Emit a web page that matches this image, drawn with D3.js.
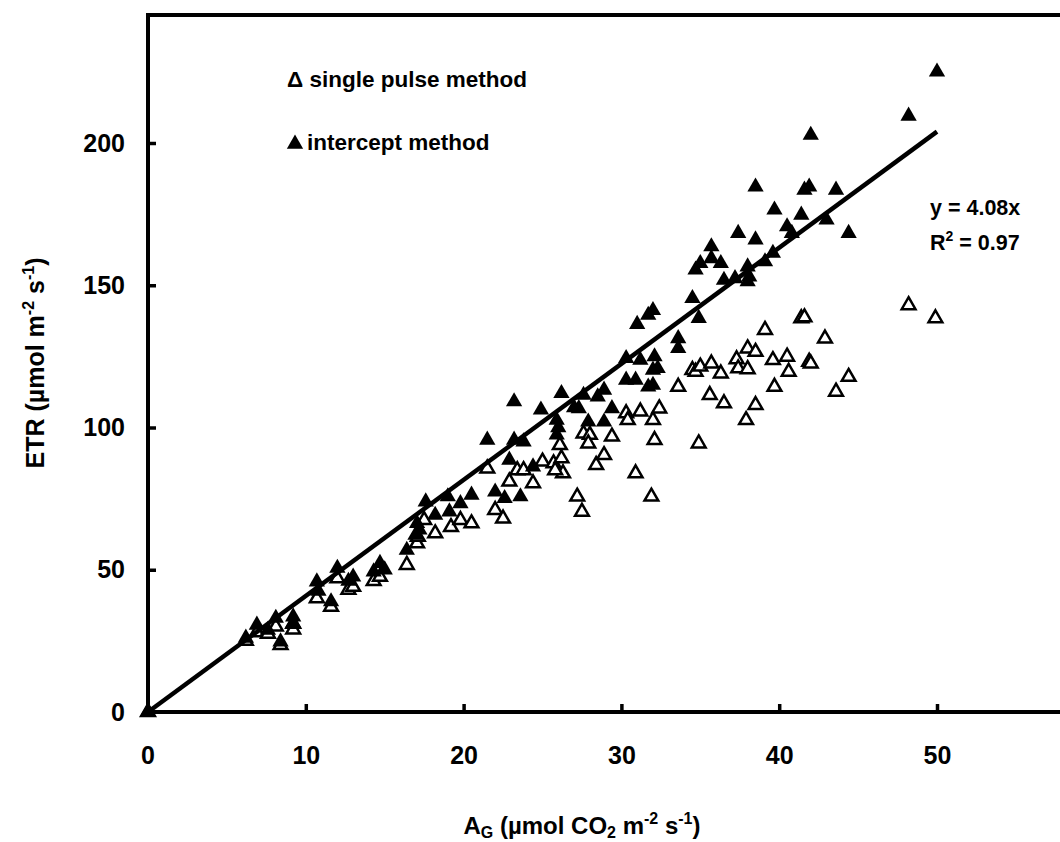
<!DOCTYPE html>
<html><head><meta charset="utf-8">
<script src="https://cdn.jsdelivr.net/npm/d3@7"></script>
<style>
body{margin:0;background:#fff}
text{font-family:Arial,"Liberation Sans",sans-serif;font-weight:bold;fill:#000}
</style>
</head><body><svg id="c" width="1060" height="842"></svg>
<script>
const xTicks=[0,10,20,30,40,50];
const yTicks=[0,50,100,150,200];
const singlePulse=[[0,0],[6.2,25.0],[6.9,28],[7.6,27.5],[8.1,30],[8.4,23.5],[9.2,29],[9.2,31],[10.7,40],[11.6,37],[12.0,47],[12.7,43],[13.0,44],[14.3,46],[14.7,47.5],[16.4,51.7],[17.05,59.3],[17.1,61.6],[17.5,67.5],[18.2,62.8],[19.2,65],[19.8,67.5],[20.5,66.3],[21.5,85.6],[22.0,71],[22.5,68],[22.9,81],[23.4,85],[23.8,85],[24.4,80.4],[25.0,88],[25.7,87.4],[26.2,89.2],[26.1,93.8],[26.3,83.9],[25.8,85],[27.2,75.7],[27.5,70.4],[27.6,97.9],[28.0,97.4],[27.9,94.4],[28.4,86.8],[28.9,90.3],[29.4,96.8],[30.3,105],[30.4,102.6],[30.9,83.9],[31.2,105.6],[31.9,75.7],[32.0,102.6],[32.1,95.6],[32.4,106.7],[33.6,114.3],[34.5,120.2],[34.7,119.6],[34.9,94.4],[35.0,121.4],[35.6,111.4],[35.7,122.5],[36.3,119],[36.5,108.5],[37.3,124],[37.4,120.8],[37.9,102.6],[38.0,120.5],[38.0,127.8],[38.5,126.6],[38.5,107.9],[39.1,134.3],[39.6,123.7],[39.7,114.3],[40.5,124.9],[40.6,119.6],[41.4,138.4],[41.6,138.7],[41.9,123.1],[42.0,122.5],[42.9,131.3],[43.6,112.6],[44.4,117.8],[48.2,143],[49.9,138.4]];
const intercept=[[0,0],[6.2,26.0],[6.9,30.6],[7.6,28.8],[8.1,33.0],[8.4,24.7],[9.2,33.5],[9.2,31.3],[10.7,45.8],[10.8,42.5],[11.6,38.8],[12.0,50.6],[12.7,46.0],[13.0,47.5],[14.3,49.3],[14.7,52.3],[15.0,50.0],[16.4,56.9],[16.95,62.2],[17.05,66.3],[17.2,64.0],[17.6,73.9],[18.2,69.2],[19.0,75.7],[19.1,70.4],[19.8,73.3],[20.5,76.3],[21.5,95.6],[22.0,77.4],[22.6,75.1],[22.9,88.6],[23.2,109.1],[23.2,95.6],[23.6,75.7],[23.8,95.0],[24.4,86.2],[24.9,106.2],[25.9,102.6],[25.9,97.4],[26.0,100.0],[26.2,112.0],[27.0,107.0],[27.3,106.7],[27.6,111.4],[27.9,102.0],[28.5,110.8],[28.9,113.2],[28.9,102.0],[29.4,106.7],[30.3,124.3],[30.3,116.7],[31.0,136.3],[30.9,116.7],[31.2,123.7],[31.7,139.5],[32.0,141.2],[31.7,114.3],[32.0,114.9],[32.1,124.9],[32.0,120.2],[32.3,120.8],[33.6,131.3],[33.6,127.8],[34.5,145.4],[34.9,138.4],[35.0,157.7],[34.7,155.4],[35.7,163.6],[35.7,159.4],[36.3,157.7],[36.5,151.8],[37.2,152.4],[37.4,168.3],[38.0,156.5],[38.1,153.0],[38.0,151.3],[38.5,184.6],[38.5,166.0],[39.1,158.3],[39.6,161.3],[39.7,176.5],[40.5,170.6],[40.8,168.3],[41.4,174.7],[41.6,183.5],[41.9,184.6],[42.0,202.8],[43.0,173.0],[43.6,183.5],[44.4,168.3],[48.2,209.5],[50.0,225.0]];
const fitSlope=4.08;
const fitRange=[0,50.0];
const legendLabels=["single pulse method","intercept method"];
const eqText=["y = 4.08x","0.97"];

const svg=d3.select("#c");
const x=d3.scaleLinear().domain([0,60]).range([148,148+60*15.78]);
const y=d3.scaleLinear().domain([0,250]).range([712,712-250*2.845]);
const topVal=245;

// frame
svg.append("path")
  .attr("d",`M1070,${y(topVal)}H${x(0)}V${y(0)}H1070`)
  .attr("fill","none").attr("stroke","#000").attr("stroke-width",4);

// axes
const xa=svg.append("g").attr("transform",`translate(0,${y(0)})`)
  .call(d3.axisBottom(x).tickValues(xTicks.slice(1)).tickSizeInner(-8).tickSizeOuter(0).tickPadding(34).tickFormat(d3.format("d")));
xa.select(".domain").remove();
svg.append("text").attr("x",x(0)).attr("y",y(0)+34).attr("dy","0.71em").attr("text-anchor","middle").attr("font-size",25).text(xTicks[0]);
xa.selectAll("line").attr("stroke-width",3.5);
xa.selectAll("text").attr("font-size",25).attr("font-family",null).attr("font-weight","bold").attr("fill","#000");

const ya=svg.append("g").attr("transform",`translate(${x(0)},0)`)
  .call(d3.axisLeft(y).tickValues(yTicks).tickSizeInner(-8).tickSizeOuter(0).tickPadding(23).tickFormat(d3.format("d")));
ya.select(".domain").remove();
ya.selectAll("line").attr("stroke-width",3.5);
ya.selectAll("text").attr("font-size",25).attr("font-family",null).attr("font-weight","bold").attr("fill","#000");
ya.selectAll(".tick").filter(d=>d===0).select("line").remove();

// markers
const tri=d3.symbol().type(d3.symbolTriangle);
svg.append("g").selectAll("path").data(singlePulse).join("path")
  .attr("d",tri.size(82)())
  .attr("transform",d=>`translate(${x(d[0])},${y(d[1])})`)
  .attr("fill","#fff").attr("stroke","#000").attr("stroke-width",2.5);
svg.append("g").selectAll("path").data(intercept).join("path")
  .attr("d",tri.size(115)())
  .attr("transform",d=>`translate(${x(d[0])},${y(d[1])})`)
  .attr("fill","#000");

// fit line
svg.append("line")
  .attr("x1",x(fitRange[0])).attr("y1",y(fitSlope*fitRange[0]))
  .attr("x2",x(fitRange[1])).attr("y2",y(fitSlope*fitRange[1]))
  .attr("stroke","#000").attr("stroke-width",4.5);

// legend
const lg=svg.append("g").attr("font-size",22.5);
const t1=lg.append("text").attr("x",287).attr("y",87);
t1.append("tspan").text("\u0394 ");
t1.append("tspan").text(legendLabels[0]);
lg.append("path").attr("d",d3.symbol().type(d3.symbolTriangle).size(115)()).attr("transform","translate(295,144)").attr("fill","#000");
lg.append("text").attr("x",307).attr("y",150).text(legendLabels[1]);

// equation
const eq=svg.append("g").attr("font-size",21.5);
eq.append("text").attr("x",930).attr("y",215).text(eqText[0]);
const r2=eq.append("text").attr("x",930).attr("y",250);
r2.append("tspan").text("R");
r2.append("tspan").attr("font-size",14).attr("dy",-9).text("2");
r2.append("tspan").attr("dy",9).text(" = "+eqText[1]);

// axis titles
const xt=svg.append("text").attr("x",582).attr("y",834).attr("text-anchor","middle").attr("font-size",24);
xt.append("tspan").text("A");
xt.append("tspan").attr("font-size",16).attr("dy",4).text("G");
xt.append("tspan").attr("dy",-4).text(" (\u00b5mol CO");
xt.append("tspan").attr("font-size",16).attr("dy",4).text("2");
xt.append("tspan").attr("dy",-4).text(" m");
xt.append("tspan").attr("font-size",16).attr("dy",-10).text("-2");
xt.append("tspan").attr("dy",10).text(" s");
xt.append("tspan").attr("font-size",16).attr("dy",-10).text("-1");
xt.append("tspan").attr("dy",10).text(")");

const yt=svg.append("text").attr("transform","translate(44,363) rotate(-90)").attr("text-anchor","middle").attr("font-size",25);
yt.append("tspan").text("ETR (\u00b5mol m");
yt.append("tspan").attr("font-size",16).attr("dy",-10).text("-2");
yt.append("tspan").attr("dy",10).text(" s");
yt.append("tspan").attr("font-size",16).attr("dy",-10).text("-1");
yt.append("tspan").attr("dy",10).text(")");
</script></body></html>
